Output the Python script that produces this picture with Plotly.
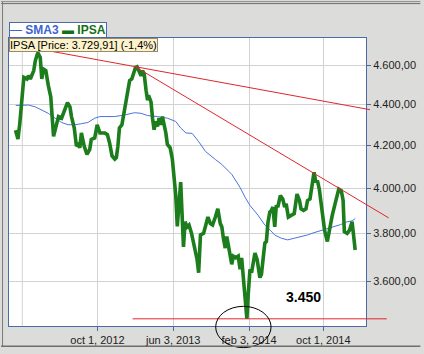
import numpy as np
import pandas as pd
import plotly.graph_objects as go

# ---------------- data ----------------
ipsa_dates = [
    "2012-01-10", "2012-01-18", "2012-01-24", "2012-01-28", "2012-02-06", "2012-02-16", "2012-02-21",
    "2012-02-27", "2012-03-03", "2012-03-09", "2012-03-14", "2012-03-22", "2012-03-30", "2012-04-04",
    "2012-04-09", "2012-04-17", "2012-04-25", "2012-05-03", "2012-05-12", "2012-05-17", "2012-05-28",
    "2012-06-07", "2012-06-18", "2012-06-26", "2012-07-04", "2012-07-09", "2012-07-18", "2012-07-25",
    "2012-07-31", "2012-08-05", "2012-08-10", "2012-08-19", "2012-08-28", "2012-09-06", "2012-09-11",
    "2012-09-22", "2012-09-30", "2012-10-09", "2012-10-25", "2012-11-02", "2012-11-09", "2012-11-17",
    "2012-11-26", "2012-12-01", "2012-12-06", "2012-12-11", "2012-12-19", "2012-12-25", "2012-12-30",
    "2013-01-07", "2013-01-13", "2013-01-20", "2013-01-26", "2013-02-01", "2013-02-06", "2013-02-11",
    "2013-02-19", "2013-02-24", "2013-03-01", "2013-03-07", "2013-03-12", "2013-03-15", "2013-03-23",
    "2013-03-28", "2013-04-02", "2013-04-08", "2013-04-13", "2013-04-18", "2013-04-24", "2013-04-29",
    "2013-05-04", "2013-05-10", "2013-05-15", "2013-05-24", "2013-05-31", "2013-06-05", "2013-06-11",
    "2013-06-16", "2013-06-21", "2013-06-27", "2013-07-06", "2013-07-11", "2013-07-18", "2013-07-24",
    "2013-08-01", "2013-08-08", "2013-08-19", "2013-08-24", "2013-08-30", "2013-09-09", "2013-09-15",
    "2013-09-23", "2013-10-01", "2013-10-08", "2013-10-17", "2013-10-25", "2013-11-02", "2013-11-07",
    "2013-11-12", "2013-11-18", "2013-11-23", "2013-11-28", "2013-12-04", "2013-12-09", "2013-12-14",
    "2013-12-22", "2013-12-30", "2014-01-05", "2014-01-10", "2014-01-15", "2014-01-23", "2014-01-27",
    "2014-01-31", "2014-02-06", "2014-02-11", "2014-02-16", "2014-02-22", "2014-03-01", "2014-03-04",
    "2014-03-10", "2014-03-15", "2014-03-20", "2014-03-26", "2014-03-31", "2014-04-05", "2014-04-11",
    "2014-04-16", "2014-04-21", "2014-04-27", "2014-05-02", "2014-05-07", "2014-05-15", "2014-05-23",
    "2014-05-29", "2014-06-03", "2014-06-10", "2014-06-21", "2014-06-29", "2014-07-08", "2014-07-16",
    "2014-07-21", "2014-07-29", "2014-08-06", "2014-08-11", "2014-08-19", "2014-08-24", "2014-08-29",
    "2014-09-01", "2014-09-07", "2014-09-12", "2014-09-18", "2014-09-26", "2014-10-05", "2014-10-14",
    "2014-10-22", "2014-10-30", "2014-11-08", "2014-11-15", "2014-11-20", "2014-11-28", "2014-12-04",
    "2014-12-08", "2014-12-17", "2014-12-25", "2015-01-02", "2015-01-05", "2015-01-09", "2015-01-12",
]
ipsa_values = [
    4272, 4230, 4307, 4387, 4536, 4528, 4545,
    4528, 4553, 4571, 4622, 4665, 4639, 4528,
    4579, 4571, 4495, 4437, 4243, 4275, 4339,
    4331, 4379, 4408, 4387, 4339, 4283, 4196,
    4204, 4188, 4259, 4196, 4157, 4181, 4228,
    4235, 4299, 4259, 4259, 4251, 4212, 4150,
    4135, 4142, 4196, 4283, 4299, 4355, 4412,
    4461, 4520, 4528, 4562, 4588, 4591, 4571,
    4545, 4571, 4553, 4470, 4420, 4445, 4412,
    4331, 4275, 4315, 4291, 4331, 4299, 4339,
    4307, 4259, 4204, 4188, 4135, 4059, 3969,
    3831, 3910, 4028, 3743, 3851, 3829, 3837,
    3801, 3752, 3690, 3635, 3794, 3801, 3829,
    3872, 3843, 3837, 3872, 3908, 3843, 3829,
    3780, 3738, 3787, 3752, 3717, 3670, 3704,
    3697, 3704, 3649, 3697, 3622, 3542, 3450,
    3542, 3649, 3635, 3676, 3717, 3690, 3663,
    3615, 3629, 3690, 3759, 3766, 3847, 3894,
    3901, 3916, 3829, 3923, 3916, 3967, 3952,
    3916, 3930, 3872, 3880, 3887, 3974, 3945,
    3908, 3901, 3908, 3945, 3952, 3990, 4042,
    4073, 4027, 4035, 3997, 3894, 3815, 3766,
    3829, 3880, 3930, 3974, 3997, 3990, 3945,
    3808, 3801, 3815, 3851, 3815, 3773, 3730,
]

sma_dates = [
    "2012-01-11", "2012-02-06", "2012-02-21", "2012-03-14", "2012-04-04", "2012-04-25", "2012-05-17",
    "2012-06-07", "2012-06-28", "2012-07-20", "2012-08-10", "2012-08-31", "2012-09-22", "2012-10-09",
    "2012-10-25", "2012-11-26", "2012-12-28", "2013-01-29", "2013-02-19", "2013-03-12", "2013-04-13",
    "2013-05-15", "2013-06-11", "2013-06-27", "2013-07-14", "2013-08-03", "2013-08-24", "2013-09-15",
    "2013-10-17", "2013-11-07", "2013-12-09", "2014-01-05", "2014-01-21", "2014-02-06", "2014-03-04",
    "2014-03-26", "2014-04-12", "2014-04-27", "2014-05-18", "2014-06-08", "2014-06-29", "2014-07-21",
    "2014-08-11", "2014-09-01", "2014-09-23", "2014-10-14", "2014-11-05", "2014-11-26", "2014-12-17",
    "2015-01-02", "2015-01-12",
]
sma_values = [
    4394, 4396, 4396, 4387, 4371, 4355, 4331,
    4310, 4299, 4299, 4304, 4310, 4331, 4339,
    4339, 4339, 4347, 4358, 4355, 4344, 4339,
    4331, 4315, 4283, 4259, 4257, 4218, 4171,
    4133, 4110, 4064, 4004, 3960, 3923, 3880,
    3837, 3815, 3794, 3780, 3773, 3780, 3787,
    3794, 3804, 3813, 3822, 3829, 3839, 3851,
    3855, 3865,
]

x_tick_dates = ["2012-10-01", "2013-06-03", "2014-02-03", "2014-10-01"]
x_tick_labels = ["oct 1, 2012", "jun 3, 2013", "feb 3, 2014", "oct 1, 2014"]
y_tick_values = [3600, 3800, 4000, 4200, 4400, 4600]
y_tick_labels = ["3.600,00", "3.800,00", "4.000,00", "4.200,00", "4.400,00", "4.600,00"]

# trend lines: (start date, start value) -> end value at the line's right end
trend1_start = ("2012-03-23", 4685)
trend1_end_value = 4373
trend2_start = ("2013-01-29", 4593)
trend2_end_value = 3868
support_level = 3450

# ---------------- axis ranges ----------------
X0, X1 = "2011-12-20", "2015-02-16"
Y0, Y1 = 3.534286, 3.676065  # log10 range

T0, T1 = pd.Timestamp(X0), pd.Timestamp(X1)


def xp(d):
    return (pd.Timestamp(d) - T0) / (T1 - T0)


def yp(v):
    return (np.log10(v) - Y0) / (Y1 - Y0)


W, H = 424, 354
L, R, T, B = 8, 55, 38, 23
pw, ph = W - L - R, H - T - B


def px(xpix):
    return (xpix - L) / pw


def py(ypix):
    return (H - B - ypix) / ph


BG = "#dcdcda"
AXIS = "#4a6aa8"
RED = "#e0262c"

fig = go.Figure()
fig.add_trace(go.Scatter(x=sma_dates, y=sma_values, mode="lines", name="SMA3",
                         line=dict(color="#4a74dc", width=1), hoverinfo="skip"))
fig.add_trace(go.Scatter(x=ipsa_dates, y=ipsa_values, mode="lines", name="IPSA",
                         line=dict(color="#1b7d1b", width=3.6), hoverinfo="skip"))

shapes = []
# extra gridline (unlabelled)
shapes.append(dict(type="line", xref="x", yref="paper", x0="2012-02-01", x1="2012-02-01",
                   y0=0, y1=1, line=dict(color="#d2d2d2", width=1), layer="below"))
# trend lines
shapes.append(dict(type="line", xref="paper", yref="paper",
                   x0=xp(trend1_start[0]), y0=yp(trend1_start[1]),
                   x1=px(373), y1=yp(trend1_end_value), line=dict(color=RED, width=1)))
shapes.append(dict(type="line", xref="paper", yref="paper",
                   x0=xp(trend2_start[0]), y0=yp(trend2_start[1]),
                   x1=px(392), y1=yp(trend2_end_value), line=dict(color=RED, width=1)))
shapes.append(dict(type="line", xref="paper", yref="paper", x0=px(133), x1=px(390),
                   y0=yp(support_level), y1=yp(support_level), line=dict(color=RED, width=1)))
# ellipse round the low
shapes.append(dict(type="circle", xref="paper", yref="paper", x0=px(217), x1=px(273),
                   y0=py(353), y1=py(311), line=dict(color="black", width=1)))
# outer frame
shapes.append(dict(type="line", xref="paper", yref="paper", x0=px(0), x1=px(424), y0=py(1), y1=py(1),
                   line=dict(color="#8a8a8a", width=1)))
shapes.append(dict(type="line", xref="paper", yref="paper", x0=px(0), x1=px(424), y0=py(3), y1=py(3),
                   line=dict(color="#6e6e6e", width=1)))
shapes.append(dict(type="line", xref="paper", yref="paper", x0=px(1.5), x1=px(1.5), y0=py(1), y1=py(352),
                   line=dict(color="#7a7a7a", width=1)))
shapes.append(dict(type="line", xref="paper", yref="paper", x0=px(0), x1=px(424), y0=py(351.5), y1=py(351.5),
                   line=dict(color="#6e6e6e", width=1.5)))

annotations = [
    dict(xref="paper", yref="paper", x=px(8), y=py(21.5), xanchor="left", yanchor="top",
         showarrow=False, align="left",
         text="<span style='color:#3f63d0'>— <b>SMA3</b></span> "
              "<span style='color:#157015'><b>▬ IPSA</b></span>",
         font=dict(family="Liberation Sans, Arial", size=12),
         bgcolor="white", bordercolor="#4a6aa8", borderwidth=1, borderpad=0),
    dict(xref="paper", yref="paper", x=px(8), y=py(37.5), xanchor="left", yanchor="top",
         showarrow=False, align="left",
         text="IPSA [Price: 3.729,91] (-1,4%)",
         font=dict(family="Liberation Sans, Arial", size=11, color="black"),
         bgcolor="#fcf3cc", bordercolor="#9a8a66", borderwidth=1, borderpad=0),
    dict(xref="paper", yref="paper", x=px(306), y=py(302), xanchor="center", yanchor="middle",
         showarrow=False, text="<b>3.450</b>",
         font=dict(family="Liberation Sans, Arial", size=14, color="black")),
]

fig.update_layout(
    width=W, height=H,
    margin=dict(l=L, r=R, t=T, b=B, pad=0),
    paper_bgcolor=BG, plot_bgcolor="white",
    showlegend=False,
    font=dict(family="Liberation Sans, Arial", size=11, color="#222222"),
    shapes=shapes, annotations=annotations,
    hovermode=False,
)
fig.update_xaxes(type="date", range=[X0, X1], tickvals=x_tick_dates, ticktext=x_tick_labels,
                 showgrid=True, gridcolor="#d2d2d2", gridwidth=1,
                 showline=True, linecolor=AXIS, linewidth=1, mirror=True,
                 ticks="outside", ticklen=4, tickcolor=AXIS, zeroline=False,
                 tickfont=dict(size=11, color="#222222"))
fig.update_yaxes(type="log", range=[Y0, Y1], side="right", tickvals=y_tick_values,
                 ticktext=y_tick_labels, showgrid=True, gridcolor="#d2d2d2", gridwidth=1,
                 showline=True, linecolor=AXIS, linewidth=1, mirror=True,
                 ticks="outside", ticklen=4, tickcolor=AXIS, zeroline=False,
                 tickfont=dict(size=11, color="#222222"))

fig.write_html("out.html", config={"displayModeBar": False})
